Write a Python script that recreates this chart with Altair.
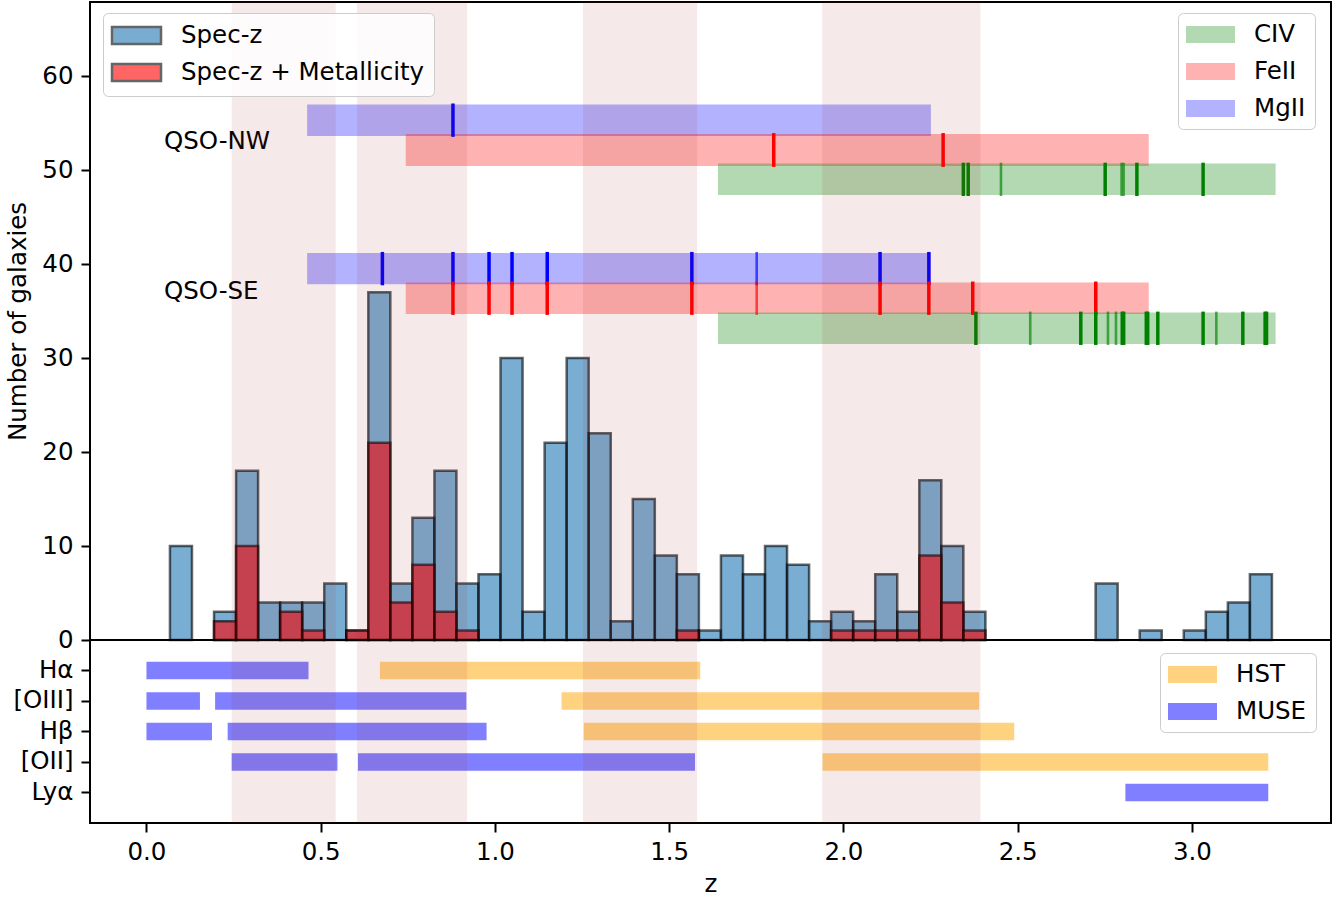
import altair as alt
import pandas as pd
import numpy as np

# ---------------- data ----------------
# histogram (50 equal bins between the lowest and highest redshift)
z_lo, z_hi, n_bins = 0.0674, 3.2295, 50
specz_counts = [10, 0, 3, 18, 4, 4, 4, 6, 1, 37,
                6, 13, 18, 6, 7, 30, 3, 21, 30, 22,
                2, 15, 9, 7, 1, 9, 7, 10, 8, 2,
                3, 2, 7, 3, 17, 10, 3, 0, 0, 0,
                0, 0, 6, 0, 1, 0, 1, 3, 4, 7]
metal_counts = [0, 0, 2, 10, 0, 3, 1, 0, 1, 21,
                4, 8, 3, 1, 0, 0, 0, 0, 0, 0,
                0, 0, 0, 1, 0, 0, 0, 0, 0, 0,
                1, 1, 1, 1, 9, 4, 1, 0, 0, 0,
                0, 0, 0, 0, 0, 0, 0, 0, 0, 0]

# absorber coverage bands (per QSO and ion)
band_qso = ["QSO-NW", "QSO-NW", "QSO-NW", "QSO-SE", "QSO-SE", "QSO-SE"]
band_ion = ["MgII", "FeII", "CIV", "MgII", "FeII", "CIV"]
band_zmin = [0.461, 0.744, 1.640, 0.461, 0.744, 1.640]
band_zmax = [2.251, 2.876, 3.240, 2.251, 2.876, 3.240]
band_ylo = [53.65, 50.45, 47.35, 37.85, 34.70, 31.50]
band_yhi = [57.00, 53.85, 50.70, 41.20, 38.05, 34.85]

# absorbers (redshift, strong=1 / weak=0)
abs_nw_mgii = [0.8795]
abs_nw_mgii_s = [1]
abs_nw_feii = [1.800, 2.286]
abs_nw_feii_s = [1, 1]
abs_nw_civ = [2.344, 2.358, 2.452, 2.751, 2.798, 2.804, 2.842, 3.032]
abs_nw_civ_s = [1, 1, 0, 1, 0, 0, 1, 1]
abs_se_mgii = [0.677, 0.8795, 0.983, 1.049, 1.150, 1.565, 1.751, 2.105, 2.245]
abs_se_mgii_s = [1, 1, 1, 1, 1, 1, 0, 1, 1]
abs_se_feii = [0.8795, 0.983, 1.049, 1.150, 1.565, 1.751, 2.105, 2.245, 2.371, 2.724]
abs_se_feii_s = [1, 1, 1, 1, 1, 0, 1, 1, 1, 1]
abs_se_civ = [2.380, 2.536, 2.681, 2.724, 2.759, 2.782, 2.800, 2.804,
              2.869, 2.873, 2.902, 3.032, 3.070, 3.146, 3.210, 3.214]
abs_se_civ_s = [1, 0, 1, 1, 0, 0, 1, 1, 1, 1, 1, 1, 0, 1, 1, 1]

qso_label = ["QSO-NW", "QSO-SE"]
qso_label_z = [0.05, 0.05]
qso_label_y = [53.0, 37.0]

# emission-line coverage (bottom panel)
lines = ["H\u03b1", "[OIII]", "H\u03b2", "[OII]", "Ly\u03b1"]
cov_line = ["H\u03b1", "H\u03b1", "[OIII]", "[OIII]", "[OIII]", "H\u03b2", "H\u03b2", "H\u03b2",
            "[OII]", "[OII]", "[OII]", "Ly\u03b1"]
cov_inst = ["MUSE", "HST", "MUSE", "MUSE", "HST", "MUSE", "MUSE", "HST",
            "MUSE", "MUSE", "HST", "MUSE"]
cov_zmin = [0.0, 0.670, 0.0, 0.197, 1.191, 0.0, 0.233, 1.255, 0.2445, 0.607, 1.940, 2.809]
cov_zmax = [0.465, 1.589, 0.1535, 0.918, 2.389, 0.188, 0.976, 2.490, 0.548, 1.574, 3.219, 3.219]

# shaded redshift windows
shade_zmin = [0.2448, 0.604, 1.2526, 1.939]
shade_zmax = [0.543, 0.920, 1.580, 2.393]

# ---------------- tables ----------------
edges = np.linspace(z_lo, z_hi, n_bins + 1)
hist_rows = []
for name, counts in [("Spec-z", specz_counts), ("Spec-z + Metallicity", metal_counts)]:
    for i, c in enumerate(counts):
        if c > 0:
            hist_rows.append({"series": name, "z0": edges[i], "z1": edges[i + 1], "count": c})
hist_df = pd.DataFrame(hist_rows)

band_df = pd.DataFrame({"qso": band_qso, "ion": band_ion, "zmin": band_zmin, "zmax": band_zmax,
                        "ylo": band_ylo, "yhi": band_yhi})

ion_color = {"MgII": "blue", "FeII": "red", "CIV": "green"}
tick_rows = []
for qso, ion, zs, ss in [("QSO-NW", "MgII", abs_nw_mgii, abs_nw_mgii_s),
                         ("QSO-NW", "FeII", abs_nw_feii, abs_nw_feii_s),
                         ("QSO-NW", "CIV", abs_nw_civ, abs_nw_civ_s),
                         ("QSO-SE", "MgII", abs_se_mgii, abs_se_mgii_s),
                         ("QSO-SE", "FeII", abs_se_feii, abs_se_feii_s),
                         ("QSO-SE", "CIV", abs_se_civ, abs_se_civ_s)]:
    b = band_df[(band_df.qso == qso) & (band_df.ion == ion)].iloc[0]
    for z, s in zip(zs, ss):
        tick_rows.append({"z": z, "ylo": b.ylo - 0.1, "yhi": b.yhi + 0.1, "col": ion_color[ion],
                          "alpha": 1.0 if s else 0.65, "w": 3.5 if s else 2.6})
tick_df = pd.DataFrame(tick_rows)

label_df = pd.DataFrame({"text": qso_label, "z": qso_label_z, "y": qso_label_y})
cov_df = pd.DataFrame({"line": cov_line, "inst": cov_inst, "zmin": cov_zmin, "zmax": cov_zmax})
shade_df = pd.DataFrame({"zmin": shade_zmin, "zmax": shade_zmax})

# ---------------- layout ----------------
W, H = 1241, 821
TOP_H = 638
FS = 24.5
FONT = "DejaVu Sans"

xscale = alt.Scale(domain=[-0.162, 3.399], nice=False, zero=False)
xaxis = alt.Axis(values=[0, 0.5, 1.0, 1.5, 2.0, 2.5, 3.0], format=".1f", title="z",
                 titleFontSize=FS, titleFontWeight="normal", titlePadding=9,
                 labelFontSize=FS, labelPadding=8, tickSize=9, tickWidth=2,
                 tickColor="black", labelColor="black", titleColor="black",
                 domain=False, grid=False, labelFlush=False)
ytop_scale = alt.Scale(domain=[0, 67.9], range=[TOP_H, 0], nice=False, zero=False)
ytop_axis = alt.Axis(values=[0, 10, 20, 30, 40, 50, 60], format="d", orient="left",
                     title="Number of galaxies", titleFontSize=FS, titleFontWeight="normal",
                     titlePadding=11, titleColor="black",
                     labelFontSize=FS, labelPadding=8, tickSize=9, tickWidth=2,
                     tickColor="black", labelColor="black", domain=False, grid=False)

PATH = "M-2,-0.7H2V0.7H-2Z"
def legend(x, y, opacity, stroke_w, row_pad):
    return alt.Legend(orient="none", legendX=x, legendY=y, title=None,
                      symbolType=PATH, symbolSize=600, symbolOpacity=opacity,
                      symbolStrokeColor="black", symbolStrokeWidth=stroke_w,
                      symbolOffset=11, labelOffset=31,
                      labelFontSize=FS, labelFont=FONT, labelColor="black", labelLimit=500,
                      padding=9, rowPadding=row_pad,
                      fillColor="rgba(255,255,255,0.8)", strokeColor="#cccccc",
                      cornerRadius=5)

hist = alt.Chart(hist_df).mark_bar(fillOpacity=0.6, stroke="black", strokeOpacity=0.6,
                                   strokeWidth=2.5).encode(
    x=alt.X("z0:Q", scale=xscale, axis=xaxis),
    x2="z1:Q",
    y=alt.Y("count:Q", scale=ytop_scale, axis=ytop_axis),
    y2=alt.datum(0),
    fill=alt.Fill("series:N",
                  scale=alt.Scale(domain=["Spec-z", "Spec-z + Metallicity"],
                                  range=["#1f77b4", "#ff0000"]),
                  legend=legend(13, 11, 0.6, 2.5, 8)),
)

bands = alt.Chart(band_df).mark_rect(opacity=0.3).encode(
    x=alt.X("zmin:Q", scale=xscale, axis=xaxis),
    x2="zmax:Q",
    y=alt.Y("ylo:Q", scale=ytop_scale, axis=ytop_axis),
    y2="yhi:Q",
    color=alt.Color("ion:N",
                    scale=alt.Scale(domain=["CIV", "FeII", "MgII"],
                                    range=["green", "red", "blue"]),
                    legend=legend(1088, 11, 0.3, 0, 12)),
)

ticks = alt.Chart(tick_df).mark_rule(strokeCap="butt").encode(
    x=alt.X("z:Q", scale=xscale, axis=xaxis),
    y=alt.Y("ylo:Q", scale=ytop_scale, axis=ytop_axis),
    y2="yhi:Q",
    stroke=alt.Stroke("col:N", scale=None),
    opacity=alt.Opacity("alpha:Q", scale=None),
    strokeWidth=alt.StrokeWidth("w:Q", scale=None),
)

labels = alt.Chart(label_df).mark_text(align="left", baseline="middle", fontSize=FS,
                                       font=FONT, color="black").encode(
    x=alt.X("z:Q", scale=xscale, axis=xaxis),
    y=alt.Y("y:Q", scale=ytop_scale, axis=ytop_axis),
    text="text:N",
)

sep = alt.Chart(pd.DataFrame({"v": [0]})).mark_rule(color="black", strokeWidth=2).encode(
    y=alt.Y("v:Q", scale=ytop_scale, axis=ytop_axis),
    x=alt.value(0), x2=alt.value(W),
)

top = alt.layer(hist, bands, ticks, labels, sep)

cov = alt.Chart(cov_df).mark_bar(opacity=0.5).encode(
    x=alt.X("zmin:Q", scale=xscale, axis=xaxis),
    x2="zmax:Q",
    y=alt.Y("line:N",
            scale=alt.Scale(domain=lines, range=[TOP_H, H], paddingInner=0.426,
                            paddingOuter=0.713),
            axis=alt.Axis(orient="left", title=None, labelFontSize=FS, labelPadding=8,
                          tickSize=9, tickWidth=2, tickColor="black", labelColor="black",
                          domain=False, grid=False)),
    color=alt.Color("inst:N",
                    scale=alt.Scale(domain=["HST", "MUSE"], range=["orange", "blue"]),
                    legend=legend(1070, 651, 0.5, 0, 12)),
)

shade = alt.Chart(shade_df).mark_rect(color="brown", opacity=0.1).encode(
    x=alt.X("zmin:Q", scale=xscale, axis=xaxis),
    x2="zmax:Q",
    y=alt.value(0), y2=alt.value(H),
)

chart = alt.layer(top, cov, shade).resolve_scale(
    y="independent", color="independent"
).properties(
    width=W, height=H,
    autosize=alt.AutoSizeParams(type="none"),
    padding={"left": 90, "top": 2, "right": 9, "bottom": 78},
    background="white",
).configure(font=FONT).configure_view(stroke="black", strokeWidth=2)

chart.save("out.html", embed_options={"renderer": "svg", "actions": False})
